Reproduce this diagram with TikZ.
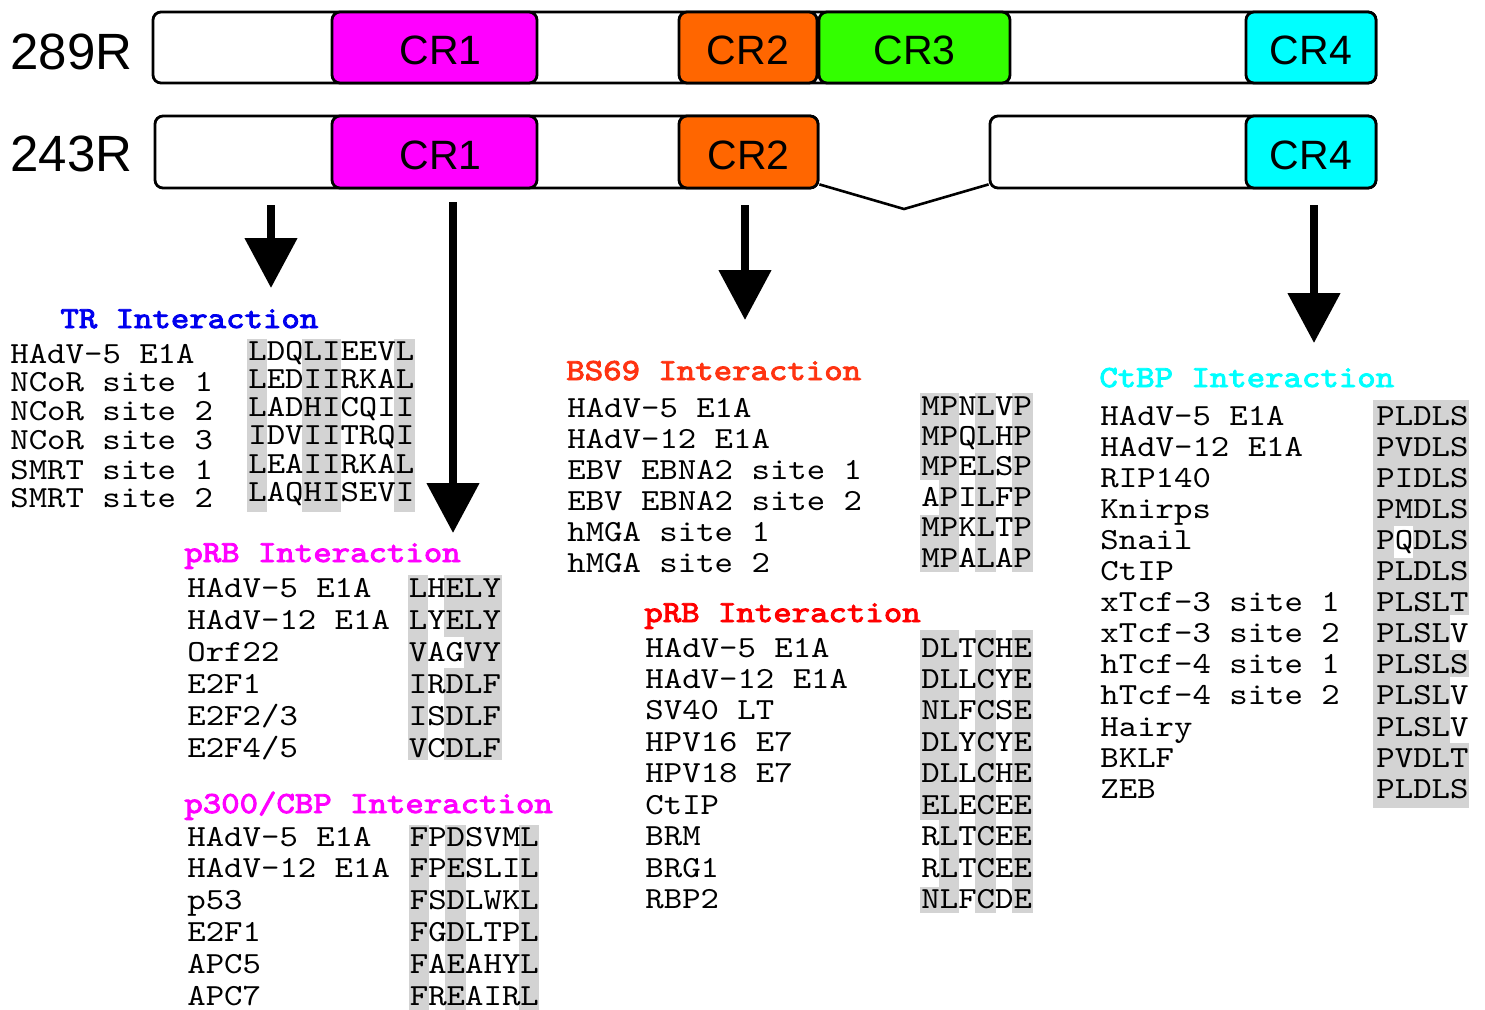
\documentclass[tikz,border=0pt]{standalone}
\usepackage{fontspec}
\setmainfont{Liberation Sans}
% typewriter faces stretched to a 0.6 em cell
\newfontfamily\seqfont[FakeStretch=1.143]{lmmono10-regular.otf}
\newfontfamily\headfont[FakeStretch=1.143,FakeBold=3]{lmmono10-regular.otf}
\usetikzlibrary{arrows.meta}

\definecolor{crone}{RGB}{255,0,255}
\definecolor{crtwo}{RGB}{255,102,0}
\definecolor{crthree}{RGB}{51,255,0}
\definecolor{crfour}{RGB}{0,255,255}
\definecolor{hlgray}{RGB}{211,211,211}
\definecolor{trblue}{RGB}{0,0,238}
\definecolor{bsred}{RGB}{255,51,17}
\definecolor{rbred}{RGB}{255,0,0}

% one character cell of the monospaced sequences is 18.42 units wide
\newcommand\hlcols[5]{\fill[hlgray] ({#1+#2*18.42-1},#4) rectangle ({#1+#3*18.42+1},#5);}
\newcommand\gapcell[5]{\fill[white] ({#1+#2*18.42},#4) rectangle ({#1+#3*18.42},#5);}

\begin{document}
\begin{tikzpicture}[x=0.5pt,y=-0.5pt,
  bar/.style={draw=black,line width=1.4pt,rounded corners=4pt,inner sep=0pt,minimum height=35.5pt},
  crbox/.style={bar,font=\fontsize{20.5}{24}\selectfont,text height=17pt,text depth=0pt},
  rowtxt/.style={font=\seqfont\fontsize{15.35}{18}\selectfont,anchor=base west,inner sep=0pt},
  headtxt/.style={rowtxt,font=\headfont\fontsize{15.35}{18}\selectfont},
  isoform/.style={font=\fontsize{25.5}{30}\selectfont,anchor=base west,inner sep=0pt},
  bigarrow/.style={line width=4pt,-{Triangle[width=25.5pt,length=25pt]}},
  splice/.style={line width=1.3pt}]
\useasboundingbox (0,0) rectangle (1485,1009);

% ---------- 289R isoform ----------
\node[isoform] (lab289) at (10,69) {289R};
\node[bar,fill=white,minimum width=611.5pt] (fbar) at (764.5,47.5) {};
\node[crbox,fill=crone,minimum width=102.5pt] (fcr1) at (434.5,47.5) {\hspace{6pt}CR1};
\node[crbox,fill=crtwo,minimum width=69pt] (fcr2) at (748,47.5) {CR2};
\node[crbox,fill=crthree,minimum width=95.5pt] (fcr3) at (914.5,47.5) {CR3\hspace{4pt}};
\node[crbox,fill=crfour,minimum width=65pt] (fcr4) at (1311,47.5) {CR4};

% ---------- 243R isoform ----------
\node[isoform] (lab243) at (10,171) {243R};
\node[bar,fill=white,minimum width=331.5pt,minimum height=36pt] (sleft) at (486.5,152) {};
\node[bar,fill=white,minimum width=193pt,minimum height=36pt] (sright) at (1183,152) {};
\node[crbox,fill=crone,minimum width=102.5pt,minimum height=36pt] (scr1) at (434.5,152) {\hspace{6pt}CR1};
\node[crbox,fill=crtwo,minimum width=69.5pt,minimum height=36pt] (scr2) at (748.5,152) {CR2};
\node[crbox,fill=crfour,minimum width=65pt,minimum height=36pt] (scr4) at (1311,152) {CR4};
\coordinate (splicev) at (904,209);
\draw[splice] ([yshift=2.5pt]scr2.south east) -- (splicev) -- ([yshift=2.5pt]sright.south west);

% ---------- arrows ----------
\coordinate (atr0) at (271,205);   \coordinate (atr1) at (271,288);
\coordinate (arb0) at (453,202);   \coordinate (arb1) at (453,533);
\coordinate (abs0) at (745,205);   \coordinate (abs1) at (745,320);
\coordinate (act0) at (1314,205);  \coordinate (act1) at (1314,343);
\draw[bigarrow] (atr0) -- (atr1);
\draw[bigarrow] (arb0) -- (arb1);
\draw[bigarrow] (abs0) -- (abs1);
\draw[bigarrow] (act0) -- (act1);

% ---------- shaded conserved positions ----------
% TR
\hlcols{248}{0}{1}{339}{512}
\hlcols{248}{3}{5}{339}{512}
\hlcols{248}{8}{9}{339}{512}
% pRB (CR1)
\hlcols{408.5}{0}{1}{575}{760}
\hlcols{408.5}{2}{5}{575}{760}
\gapcell{408.5}{1.9}{3}{637}{668}
% p300/CBP
\hlcols{409.5}{0}{1}{825}{1010}
\hlcols{409.5}{2}{3}{825}{1010}
\hlcols{409.5}{6}{7}{825}{1010}
% BS69
\hlcols{921}{0}{2}{393}{572}
\hlcols{921}{3}{4}{393}{572}
\hlcols{921}{5}{6}{393}{572}
\gapcell{921}{-0.1}{1}{480}{515}
% pRB (CR2)
\hlcols{921}{0}{2}{630}{913}
\hlcols{921}{3}{4}{630}{913}
\hlcols{921}{5}{6}{630}{913}
\gapcell{921}{-0.1}{1}{820}{887}
% CtBP
\fill[hlgray] (1373,400) rectangle (1469,808);
\gapcell{1376}{1}{2}{526}{558}
\gapcell{1376}{4}{5.1}{615}{650}
\gapcell{1376}{4}{5.1}{677}{743}

% ---------- TR interaction ----------
\node[headtxt,text=trblue] (trhead) at (60,328) {TR Interaction};
\foreach \t/\y [count=\i] in {HAdV-5 E1A/363,NCoR site 1/391,NCoR site 2/420.7,NCoR site 3/449,SMRT site 1/479,SMRT site 2/507.3}
  \node[rowtxt] (trname\i) at (10,\y) {\t};
\foreach \t [count=\i] in {LDQLIEEVL,LEDIIRKAL,LADHICQII,IDVIITRQI,LEAIIRKAL,LAQHISEVI}
  \node[rowtxt] (trseq\i) at (248,{360+(\i-1)*28.3}) {\t};

% ---------- pRB interaction (CR1) ----------
\node[headtxt,text=crone] (rbahead) at (184,562) {pRB Interaction};
\foreach \t/\s [count=\i] in {HAdV-5 E1A/LHELY,HAdV-12 E1A/LYELY,Orf22/VAGVY,E2F1/IRDLF,{E2F2/3}/ISDLF,{E2F4/5}/VCDLF}{
  \node[rowtxt] (rbaname\i) at (187,{597+(\i-1)*32}) {\t};
  \node[rowtxt] (rbaseq\i) at (408.5,{597+(\i-1)*32}) {\s};
}

% ---------- p300/CBP interaction ----------
\node[headtxt,text=crone] (phead) at (184,813) {p300/CBP Interaction};
\foreach \t/\s [count=\i] in {HAdV-5 E1A/FPDSVML,HAdV-12 E1A/FPESLIL,p53/FSDLWKL,E2F1/FGDLTPL,APC5/FAEAHYL,APC7/FREAIRL}{
  \node[rowtxt] (pname\i) at (187,{846+(\i-1)*31.8}) {\t};
  \node[rowtxt] (pseq\i) at (409.5,{846+(\i-1)*31.8}) {\s};
}

% ---------- BS69 interaction ----------
\node[headtxt,text=bsred] (bshead) at (566,380) {BS69 Interaction};
\foreach \t/\s [count=\i] in {HAdV-5 E1A/MPNLVP,HAdV-12 E1A/MPQLHP,EBV EBNA2 site 1/MPELSP,EBV EBNA2 site 2/APILFP,hMGA site 1/MPKLTP,hMGA site 2/MPALAP}{
  \node[rowtxt] (bsname\i) at (567,{417+(\i-1)*31}) {\t};
  \node[rowtxt] (bsseq\i) at (921,{415+(\i-1)*30.4}) {\s};
}

% ---------- pRB interaction (CR2) ----------
\node[headtxt,text=rbred] (rbbhead) at (644,622) {pRB Interaction};
\foreach \t/\s [count=\i] in {HAdV-5 E1A/DLTCHE,HAdV-12 E1A/DLLCYE,SV40 LT/NLFCSE,HPV16 E7/DLYCYE,HPV18 E7/DLLCHE,CtIP/ELECEE,BRM/RLTCEE,BRG1/RLTCEE,RBP2/NLFCDE}{
  \node[rowtxt] (rbbname\i) at (645,{657+(\i-1)*31.45}) {\t};
  \node[rowtxt] (rbbseq\i) at (921,{657+(\i-1)*31.45}) {\s};
}

% ---------- CtBP interaction ----------
\node[headtxt,text=crfour] (cthead) at (1099,387) {CtBP Interaction};
\foreach \t/\s [count=\i] in {HAdV-5 E1A/PLDLS,HAdV-12 E1A/PVDLS,RIP140/PIDLS,Knirps/PMDLS,Snail/PQDLS,CtIP/PLDLS,xTcf-3 site 1/PLSLT,xTcf-3 site 2/PLSLV,hTcf-4 site 1/PLSLS,hTcf-4 site 2/PLSLV,Hairy/PLSLV,BKLF/PVDLT,ZEB/PLDLS}{
  \node[rowtxt] (ctname\i) at (1100,{425+(\i-1)*31.1}) {\t};
  \node[rowtxt] (ctseq\i) at (1376,{425+(\i-1)*31.1}) {\s};
}
\end{tikzpicture}
\end{document}
